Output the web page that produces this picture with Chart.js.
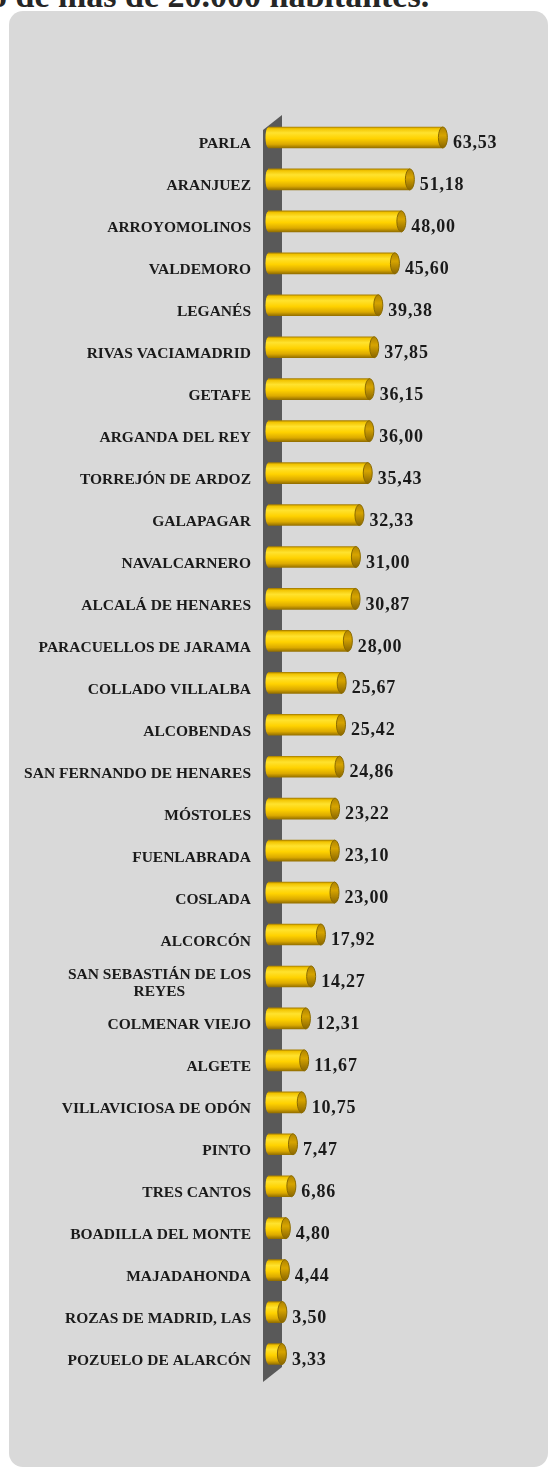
<!DOCTYPE html>
<html>
<head>
<meta charset="utf-8">
<script src="https://cdn.jsdelivr.net/npm/chart.js@4/dist/chart.umd.min.js"></script>
<style>
  html, body { margin: 0; padding: 0; background: #ffffff; width: 549px; height: 1468px; overflow: hidden; }
  #title { position: absolute; left: -10px; top: -21px; white-space: nowrap;
           font-family: "Liberation Serif", "Times New Roman", serif; font-weight: bold;
           font-size: 34px; line-height: 34px; color: #262626; }
  #panel { position: absolute; left: 9px; top: 11px; width: 539px; height: 1456px;
           background: #d9d9d9; border-radius: 14px; }
  #c { position: absolute; left: 0; top: 0; }
</style>
</head>
<body>
<div id="title">o de más de 20.000 habitantes.</div>
<div id="panel"></div>
<canvas id="c" width="549" height="1468"></canvas>
<script>
const categories = [
  "PARLA", "ARANJUEZ", "ARROYOMOLINOS", "VALDEMORO", "LEGANÉS",
  "RIVAS VACIAMADRID", "GETAFE", "ARGANDA DEL REY", "TORREJÓN DE ARDOZ", "GALAPAGAR",
  "NAVALCARNERO", "ALCALÁ DE HENARES", "PARACUELLOS DE JARAMA", "COLLADO VILLALBA", "ALCOBENDAS",
  "SAN FERNANDO DE HENARES", "MÓSTOLES", "FUENLABRADA", "COSLADA", "ALCORCÓN",
  ["SAN SEBASTIÁN DE LOS", "REYES"], "COLMENAR VIEJO", "ALGETE", "VILLAVICIOSA DE ODÓN", "PINTO",
  "TRES CANTOS", "BOADILLA DEL MONTE", "MAJADAHONDA", "ROZAS DE MADRID, LAS", "POZUELO DE ALARCÓN"
];
const values = [
  63.53, 51.18, 48.00, 45.60, 39.38,
  37.85, 36.15, 36.00, 35.43, 32.33,
  31.00, 30.87, 28.00, 25.67, 25.42,
  24.86, 23.22, 23.10, 23.00, 17.92,
  14.27, 12.31, 11.67, 10.75, 7.47,
  6.86, 4.80, 4.44, 3.50, 3.33
];
const axisMin = -1.87;
const axisMax = 100;

const HALF = 10.5;
const LABEL_FONT = 'bold 15.5px "Liberation Serif", "Times New Roman", serif';

function barGradient(ctx, y) {
  if (!isFinite(y)) return '#ffd200';
  const g = ctx.createLinearGradient(0, y - HALF, 0, y + HALF);
  g.addColorStop(0.00, '#a98000');
  g.addColorStop(0.08, '#f2c400');
  g.addColorStop(0.28, '#ffe22e');
  g.addColorStop(0.55, '#ffd200');
  g.addColorStop(0.82, '#dcaa00');
  g.addColorStop(1.00, '#957000');
  return g;
}

const measureCtx = document.createElement('canvas').getContext('2d');
measureCtx.font = LABEL_FONT;
const spaceW = measureCtx.measureText(' ').width;
const tickLabels = categories.map(c => {
  if (!Array.isArray(c)) return c;
  const widths = c.map(s => measureCtx.measureText(s).width);
  const maxW = Math.max(...widths);
  return c.map((s, k) => s + ' '.repeat(Math.round((maxW - widths[k]) / 2 / spaceW)));
});

const wallPlugin = {
  id: 'wall',
  beforeDatasetsDraw(chart) {
    const { ctx, chartArea } = chart;
    const L = chartArea.left, T = chartArea.top, B = chartArea.bottom;
    ctx.save();
    ctx.fillStyle = '#595959';
    ctx.beginPath();
    ctx.moveTo(L - 5, T + 13.5);
    ctx.lineTo(L + 14, T - 1.5);
    ctx.lineTo(L + 14, B - 8);
    ctx.lineTo(L - 5, B + 7);
    ctx.closePath();
    ctx.fill();
    ctx.restore();
  }
};

const capPlugin = {
  id: 'caps',
  afterDatasetsDraw(chart) {
    const { ctx } = chart;
    const meta = chart.getDatasetMeta(0);
    ctx.save();
    meta.data.forEach((el, i) => {
      const x = el.x, y = el.y;
      ctx.beginPath();
      ctx.ellipse(el.base, y, 2.5, HALF - 0.5, 0, Math.PI / 2, Math.PI * 1.5);
      ctx.fillStyle = barGradient(ctx, y);
      ctx.fill();
      const g = ctx.createLinearGradient(0, y - HALF, 0, y + HALF);
      g.addColorStop(0, '#b08400');
      g.addColorStop(0.4, '#d6a400');
      g.addColorStop(1, '#8a6600');
      ctx.beginPath();
      ctx.ellipse(x, y, 4.5, HALF, 0, 0, Math.PI * 2);
      ctx.fillStyle = g;
      ctx.fill();
      ctx.lineWidth = 1;
      ctx.strokeStyle = '#8a6a00';
      ctx.stroke();
      ctx.font = 'bold 18px "Liberation Serif", "Times New Roman", serif';
      try { ctx.letterSpacing = '0.8px'; } catch (e) {}
      ctx.fillStyle = '#1a1a1a';
      ctx.textAlign = 'left';
      ctx.textBaseline = 'middle';
      ctx.fillText(values[i].toFixed(2).replace('.', ','), x + 10, y + 6);
    });
    ctx.restore();
  }
};

new Chart(document.getElementById('c'), {
  type: 'bar',
  data: {
    labels: tickLabels,
    datasets: [{
      data: values,
      base: axisMin,
      barThickness: 21,
      backgroundColor: (context) => {
        const chart = context.chart;
        let y = NaN;
        if (chart.scales && chart.scales.y && chart.chartArea) {
          y = chart.scales.y.getPixelForValue(context.dataIndex);
        }
        return barGradient(chart.ctx, y);
      },
      borderWidth: 0
    }]
  },
  options: {
    indexAxis: 'y',
    responsive: false,
    animation: false,
    events: [],
    layout: { padding: { left: 0, right: 8.6, top: 116.5, bottom: 93 } },
    plugins: { legend: { display: false }, tooltip: { enabled: false }, title: { display: false } },
    scales: {
      x: {
        type: 'linear', min: axisMin, max: axisMax, display: false
      },
      y: {
        offset: true,
        grid: { display: false, drawTicks: false },
        border: { display: false },
        afterFit: (scale) => { scale.width = 268; },
        ticks: {
          padding: 17,
          labelOffset: 7,
          color: '#1a1a1a',
          font: { family: '"Liberation Serif", "Times New Roman", serif', weight: 'bold', size: 15.5, lineHeight: 1.1 }
        }
      }
    }
  },
  plugins: [wallPlugin, capPlugin]
});
</script>
</body>
</html>
